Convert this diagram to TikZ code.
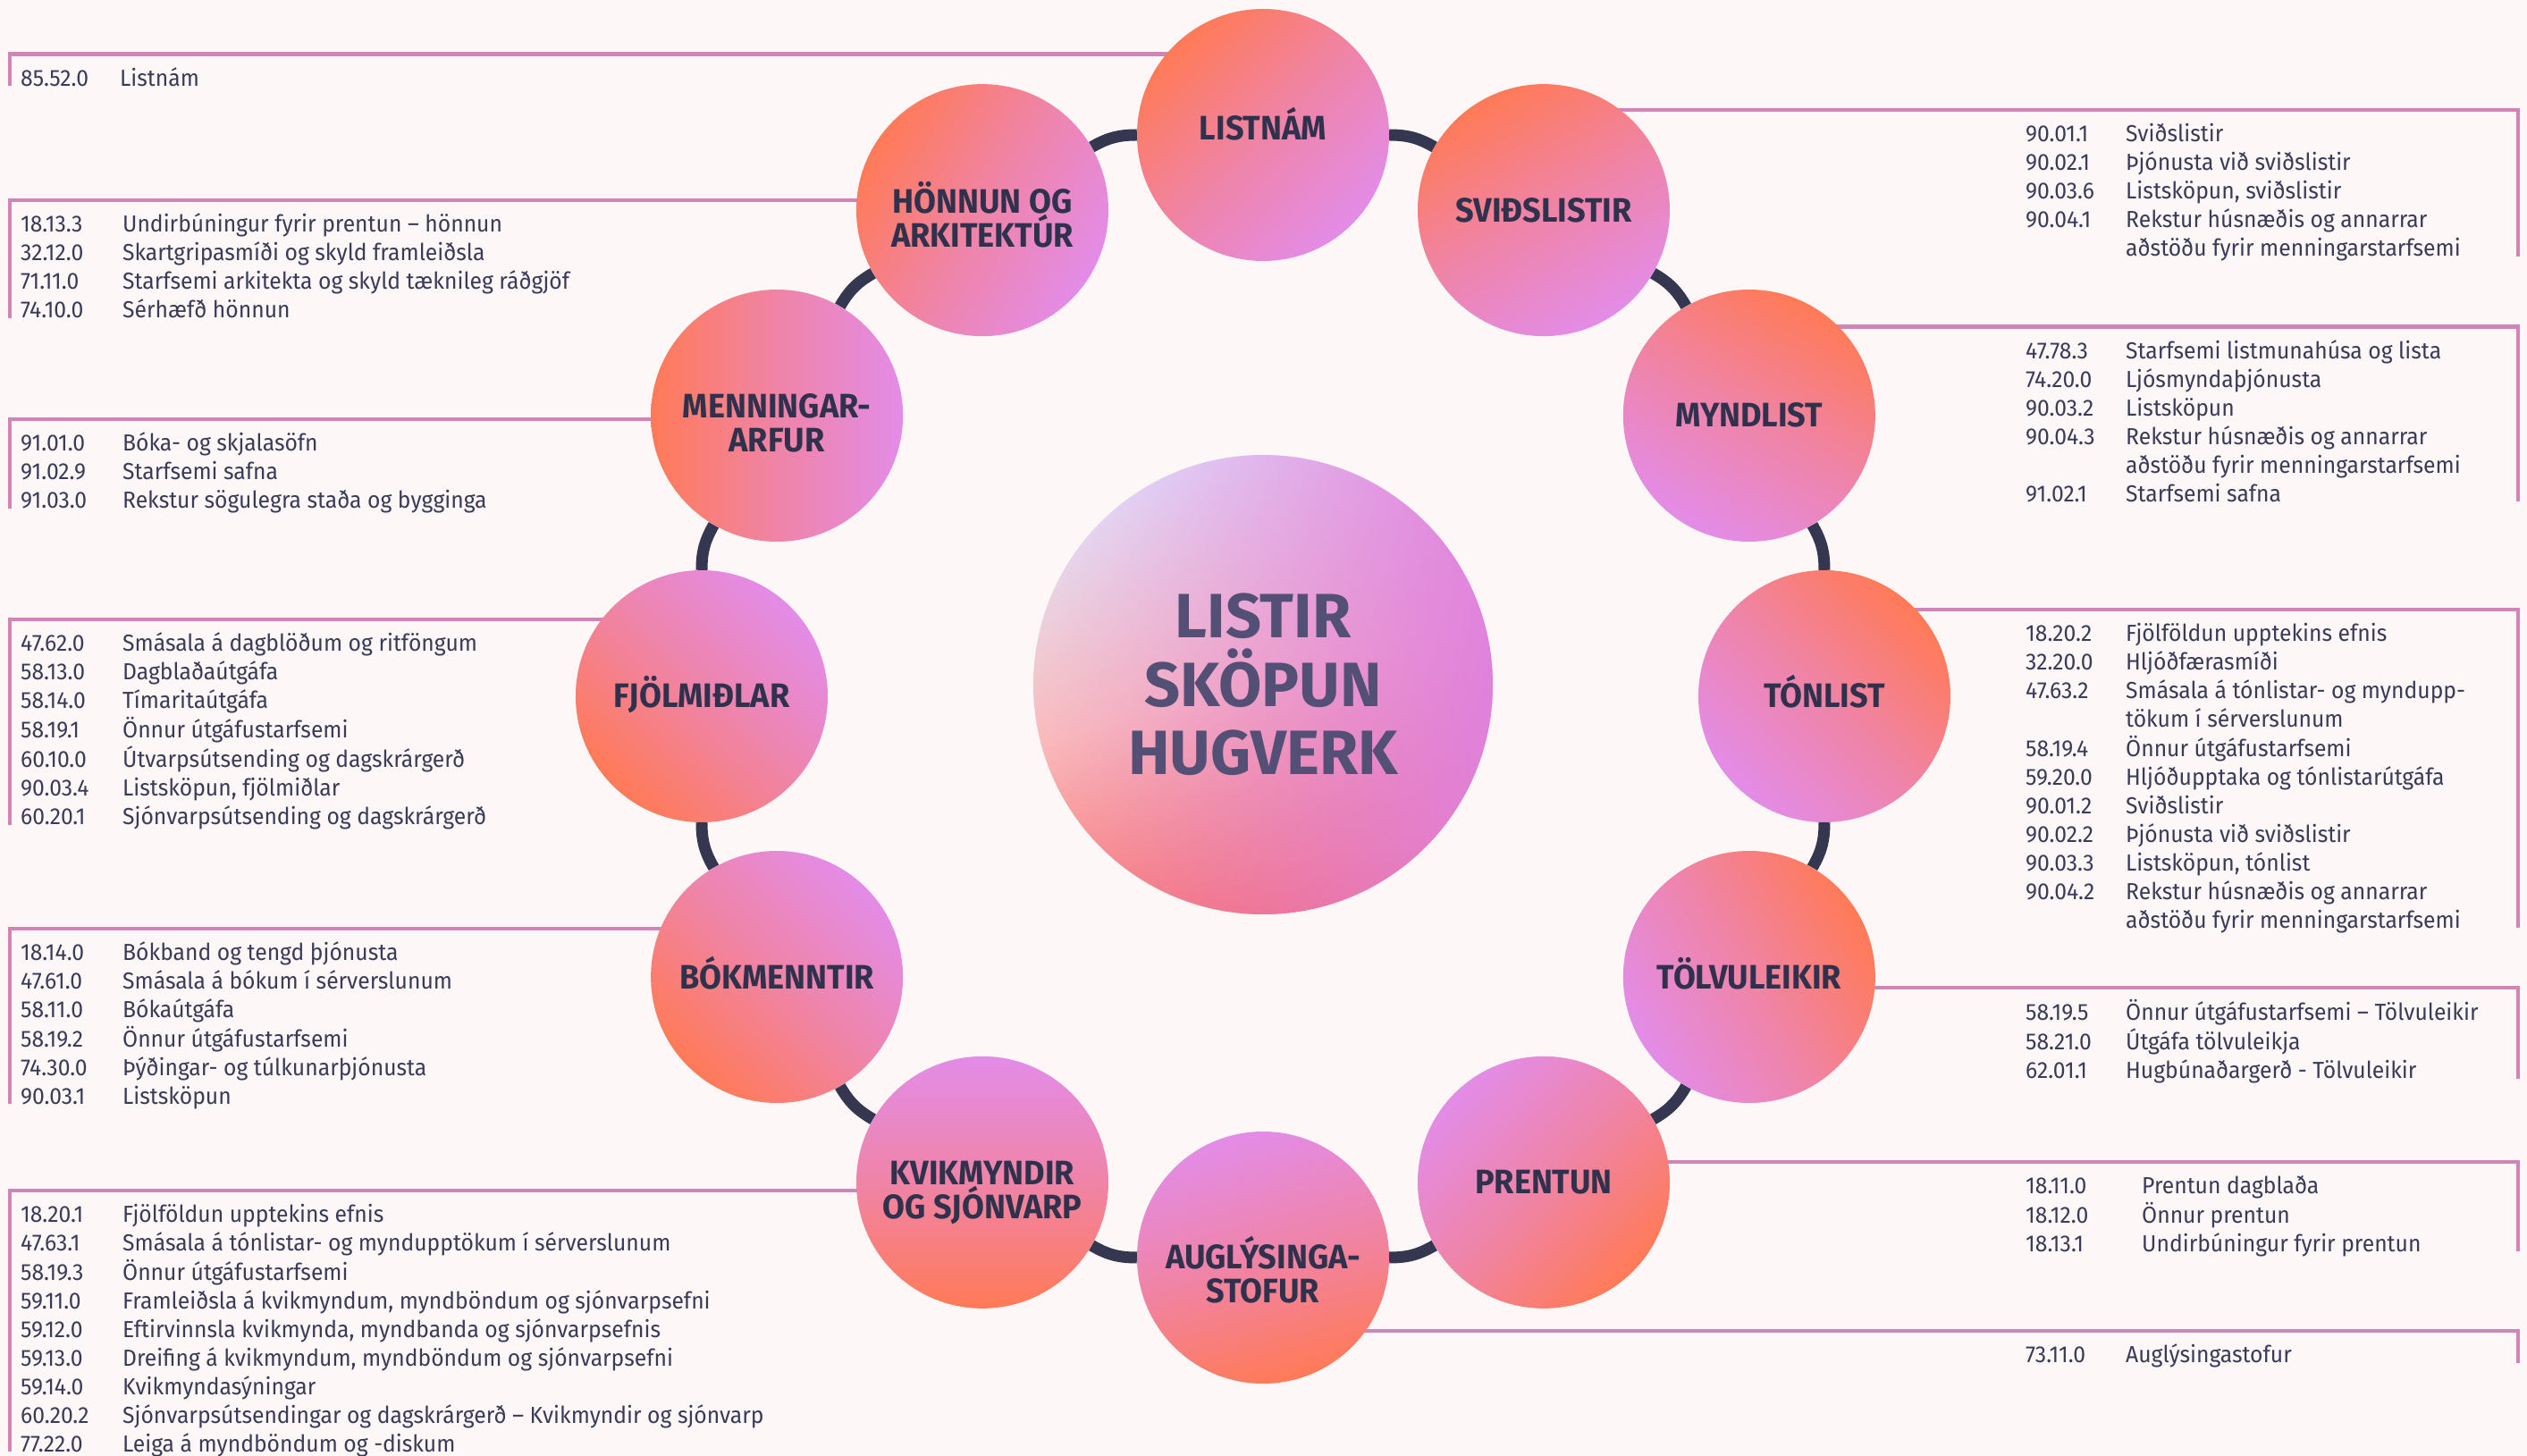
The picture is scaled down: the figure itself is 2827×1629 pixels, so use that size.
\documentclass[tikz,border=0pt]{standalone}
\usepackage{fontspec}
\setmainfont{Fira Sans}[FakeStretch=0.95]
\newfontfamily\hubfont{Fira Sans}
\usetikzlibrary{positioning, calc, backgrounds, fadings}

\definecolor{paper}{HTML}{FDF7F7}
\definecolor{listink}{HTML}{3A3B57}
\definecolor{titleink}{HTML}{30324D}
\definecolor{hubink}{HTML}{544F74}
\definecolor{bracketpink}{HTML}{CF86B6}
\definecolor{ringink}{HTML}{353650}
\definecolor{coral}{HTML}{FF7A57}
\definecolor{orchid}{HTML}{E38CE8}
\definecolor{hubtop}{HTML}{E2E6FB}
\definecolor{hubpeach}{HTML}{FABBBA}
\definecolor{hubcoral}{HTML}{FC6C5A}
\definecolor{hubviolet}{HTML}{DF80E0}

\tikzfading[name=violet side, left color=transparent!100, middle color=transparent!75, right color=transparent!5]

\tikzset{
  petal/.style={circle, minimum size=282pt, inner sep=0pt, top color=coral, bottom color=orchid,
    middle color=orchid!55!coral, text height=26pt, text depth=0pt,
    align=center, text=titleink, font=\fontsize{38}{38}\selectfont\bfseries},
  twoline/.style={text height=82pt},
  hub/.style={circle, minimum size=514pt, inner sep=0pt, top color=hubtop, bottom color=hubcoral,
    middle color=hubpeach, shading angle=15,
    path picture={
      \fill[hubviolet, path fading=violet side] (path picture bounding box.south west) rectangle (path picture bounding box.north east);
    },
    align=center, text=hubink, font=\hubfont\fontsize{70}{76.5}\selectfont\bfseries},
  ring/.style={draw=ringink, line width=13pt},
  bracket/.style={draw=bracketpink, line width=4.5pt},
  codelist/.style={anchor=north west, inner xsep=12pt, inner ysep=13pt, text=listink,
    font=\fontsize{26}{32}\selectfont},
}

\begin{document}
\begin{tikzpicture}[x=1pt, y=1pt]
  \useasboundingbox (-1413,-850) rectangle (1414,779);

  % centre
  \node[hub] (hub) at (0,13) {LISTIR\\SKÖPUN\\HUGVERK};

  % the twelve branches round the ring
  \node[petal, shading angle=45, text depth=14pt] (lst) at (90:628) {LISTNÁM};
  \node[petal, shading angle=30] (svi) at (60:628) {SVIÐSLISTIR};
  \node[petal, shading angle=-30] (myn) at (30:628) {MYNDLIST};
  \node[petal, shading angle=-45] (ton) at (0:628) {TÓNLIST};
  \node[petal, shading angle=-60] (tol) at (-30:628) {TÖLVULEIKIR};
  \node[petal, shading angle=-135] (pre) at (-60:628) {PRENTUN};
  \node[petal, twoline, shading angle=-165, text height=100pt] (aug) at (-90:628) {AUGLÝSINGA-\\STOFUR};
  \node[petal, twoline, shading angle=180] (kvi) at (-120:628) {KVIKMYNDIR\\OG SJÓNVARP};
  \node[petal, shading angle=135] (bok) at (-150:628) {BÓKMENNTIR};
  \node[petal, shading angle=135] (fjo) at (180:628) {FJÖLMIÐLAR};
  \node[petal, twoline, shading angle=90] (men) at (150:628) {MENNINGAR-\\ARFUR};
  \node[petal, twoline, shading angle=60] (hon) at (120:628) {HÖNNUN OG\\ARKITEKTÚR};

  % code lists on the left
  \node[codelist] (lstlist) at (-1402,718.5) {\begin{tabular}[b]{@{}p{111pt}@{}l@{}}
    85.52.0 & Listnám
  \end{tabular}};
  \node[codelist] (honlist) at (-1402,555) {\begin{tabular}[b]{@{}p{114pt}@{}l@{}}
    18.13.3 & Undirbúningur fyrir prentun – hönnun\\
    32.12.0 & Skartgripasmíði og skyld framleiðsla\\
    71.11.0 & Starfsemi arkitekta og skyld tæknileg ráðgjöf\\
    74.10.0 & Sérhæfð hönnun
  \end{tabular}};
  \node[codelist] (menlist) at (-1402,310) {\begin{tabular}[b]{@{}p{114pt}@{}l@{}}
    91.01.0 & Bóka- og skjalasöfn\\
    91.02.9 & Starfsemi safna\\
    91.03.0 & Rekstur sögulegra staða og bygginga
  \end{tabular}};
  \node[codelist] (fjolist) at (-1402,86) {\begin{tabular}[b]{@{}p{114pt}@{}l@{}}
    47.62.0 & Smásala á dagblöðum og ritföngum\\
    58.13.0 & Dagblaðaútgáfa\\
    58.14.0 & Tímaritaútgáfa\\
    58.19.1 & Önnur útgáfustarfsemi\\
    60.10.0 & Útvarpsútsending og dagskrárgerð\\
    90.03.4 & Listsköpun, fjölmiðlar\\
    60.20.1 & Sjónvarpsútsending og dagskrárgerð
  \end{tabular}};
  \node[codelist] (boklist) at (-1402,-260) {\begin{tabular}[b]{@{}p{114pt}@{}l@{}}
    18.14.0 & Bókband og tengd þjónusta\\
    47.61.0 & Smásala á bókum í sérverslunum\\
    58.11.0 & Bókaútgáfa\\
    58.19.2 & Önnur útgáfustarfsemi\\
    74.30.0 & Þýðingar- og túlkunarþjónusta\\
    90.03.1 & Listsköpun
  \end{tabular}};
  \node[codelist] (kvilist) at (-1402,-553) {\begin{tabular}[b]{@{}p{114pt}@{}l@{}}
    18.20.1 & Fjölföldun upptekins efnis\\
    47.63.1 & Smásala á tónlistar- og myndupptökum í sérverslunum\\
    58.19.3 & Önnur útgáfustarfsemi\\
    59.11.0 & Framleiðsla á kvikmyndum, myndböndum og sjónvarpsefni\\
    59.12.0 & Eftirvinnsla kvikmynda, myndbanda og sjónvarpsefnis\\
    59.13.0 & Dreifing á kvikmyndum, myndböndum og sjónvarpsefni\\
    59.14.0 & Kvikmyndasýningar\\
    60.20.2 & Sjónvarpsútsendingar og dagskrárgerð – Kvikmyndir og sjónvarp\\
    77.22.0 & Leiga á myndböndum og -diskum
  \end{tabular}};

  % code lists on the right
  \coordinate (rim) at (1404,0);
  \node[codelist] (svilist) at (841,656) {\begin{tabular}[b]{@{}p{112pt}@{}l@{}}
    90.01.1 & Sviðslistir\\
    90.02.1 & Þjónusta við sviðslistir\\
    90.03.6 & Listsköpun, sviðslistir\\
    90.04.1 & Rekstur húsnæðis og annarrar\\
            & aðstöðu fyrir menningarstarfsemi
  \end{tabular}};
  \node[codelist] (mynlist) at (841,413.5) {\begin{tabular}[b]{@{}p{112pt}@{}l@{}}
    47.78.3 & Starfsemi listmunahúsa og lista\\
    74.20.0 & Ljósmyndaþjónusta\\
    90.03.2 & Listsköpun\\
    90.04.3 & Rekstur húsnæðis og annarrar\\
            & aðstöðu fyrir menningarstarfsemi\\
    91.02.1 & Starfsemi safna
  \end{tabular}};
  \node[codelist] (tonlist) at (841,97) {\begin{tabular}[b]{@{}p{112pt}@{}l@{}}
    18.20.2 & Fjölföldun upptekins efnis\\
    32.20.0 & Hljóðfærasmíði\\
    47.63.2 & Smásala á tónlistar- og myndupp-\\
            & tökum í sérverslunum\\
    58.19.4 & Önnur útgáfustarfsemi\\
    59.20.0 & Hljóðupptaka og tónlistarútgáfa\\
    90.01.2 & Sviðslistir\\
    90.02.2 & Þjónusta við sviðslistir\\
    90.03.3 & Listsköpun, tónlist\\
    90.04.2 & Rekstur húsnæðis og annarrar\\
            & aðstöðu fyrir menningarstarfsemi
  \end{tabular}};
  \node[codelist] (tollist) at (841,-326) {\begin{tabular}[b]{@{}p{112pt}@{}l@{}}
    58.19.5 & Önnur útgáfustarfsemi – Tölvuleikir\\
    58.21.0 & Útgáfa tölvuleikja\\
    62.01.1 & Hugbúnaðargerð - Tölvuleikir
  \end{tabular}};
  \node[codelist] (prelist) at (841,-521) {\begin{tabular}[b]{@{}p{130pt}@{}l@{}}
    18.11.0 & Prentun dagblaða\\
    18.12.0 & Önnur prentun\\
    18.13.1 & Undirbúningur fyrir prentun
  \end{tabular}};
  \node[codelist] (auglist) at (841,-710) {\begin{tabular}[b]{@{}p{112pt}@{}l@{}}
    73.11.0 & Auglýsingastofur
  \end{tabular}};

  \begin{pgfonlayer}{background}
    \fill[paper] (-1413,-850) rectangle (1414,779);

    % ring between the branches
    \draw[ring] (lst) to[bend left=15] (svi);
    \draw[ring] (svi) to[bend left=15] (myn);
    \draw[ring] (myn) to[bend left=15] (ton);
    \draw[ring] (ton) to[bend left=15] (tol);
    \draw[ring] (tol) to[bend left=15] (pre);
    \draw[ring] (pre) to[bend left=15] (aug);
    \draw[ring] (aug) to[bend left=15] (kvi);
    \draw[ring] (kvi) to[bend left=15] (bok);
    \draw[ring] (bok) to[bend left=15] (fjo);
    \draw[ring] (fjo) to[bend left=15] (men);
    \draw[ring] (men) to[bend left=15] (hon);
    \draw[ring] (hon) to[bend left=15] (lst);

    % brackets from the branches to their lists
    \draw[bracket] (lst.center |- lstlist.north) -| (lstlist.base west);
    \draw[bracket] (hon.center |- honlist.north) -| (honlist.base west);
    \draw[bracket] (men.center |- menlist.north) -| (menlist.base west);
    \draw[bracket] (fjo.center |- fjolist.north) -| (fjolist.base west);
    \draw[bracket] (bok.center |- boklist.north) -| (boklist.base west);
    \draw[bracket] (kvi.center |- kvilist.north) -| (kvilist.base west);
    \draw[bracket] (svi.center |- svilist.north) -| (rim |- svilist.base);
    \draw[bracket] (myn.center |- mynlist.north) -| (rim |- mynlist.base);
    \draw[bracket] (ton.center |- tonlist.north) -| (rim |- tonlist.base);
    \draw[bracket] (tol.center |- tollist.north) -| (rim |- tollist.base);
    \draw[bracket] (pre.center |- prelist.north) -| (rim |- prelist.base);
    \draw[bracket] (aug.center |- auglist.north) -| (rim |- auglist.base);
  \end{pgfonlayer}
\end{tikzpicture}
\end{document}
